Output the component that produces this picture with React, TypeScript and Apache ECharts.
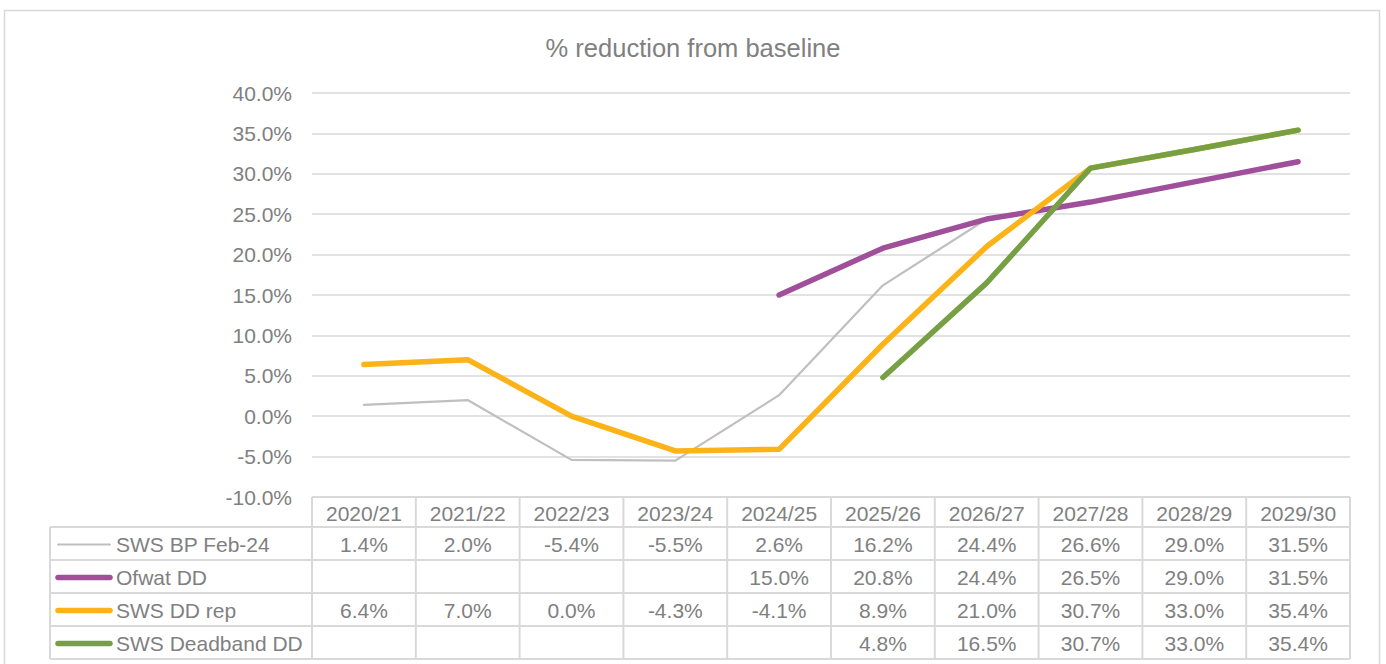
import React, { useEffect, useRef } from "react";
import * as echarts from "echarts";

const categories = ["2020/21", "2021/22", "2022/23", "2023/24", "2024/25", "2025/26", "2026/27", "2027/28", "2028/29", "2029/30"];
const swsBpFeb24 = [1.4, 2.0, -5.4, -5.5, 2.6, 16.2, 24.4, 26.6, 29.0, 31.5];
const ofwatDd = [null, null, null, null, 15.0, 20.8, 24.4, 26.5, 29.0, 31.5];
const swsDdRep = [6.4, 7.0, 0.0, -4.3, -4.1, 8.9, 21.0, 30.7, 33.0, 35.4];
const swsDeadbandDd = [null, null, null, null, null, 4.8, 16.5, 30.7, 33.0, 35.4];
const seriesNames = ["SWS BP Feb-24", "Ofwat DD", "SWS DD rep", "SWS Deadband DD"];
const seriesValues = [swsBpFeb24, ofwatDd, swsDdRep, swsDeadbandDd];
const seriesColors = ["#bfbfbf", "#a0509a", "#fbb317", "#76a043"];
const seriesWidths = [2.2, 5.5, 5.5, 5.5];
const yMin = -10;
const yMax = 40;
const yStep = 5;
const chartTitle = "% reduction from baseline";

const FONT = '"Liberation Sans", Arial, sans-serif';
const TEXT = "#808080";
const LINE = "#d9d9d9";

export default function App() {
  const ref = useRef<HTMLDivElement>(null);
  useEffect(() => {
    if (!ref.current) return;
    const chart = echarts.init(ref.current, null, { renderer: "svg" });
    chart.setOption({
      animation: false,
      backgroundColor: "#ffffff",
      title: {
        text: chartTitle,
        left: "center",
        top: 30,
        textStyle: { color: TEXT, fontSize: 25.5, fontWeight: "normal", fontFamily: FONT },
      },
      grid: { left: 312, right: 36, top: 93, bottom: 167 },
      xAxis: {
        type: "category",
        data: categories,
        boundaryGap: true,
        axisLine: { show: false },
        axisTick: { show: false },
        axisLabel: { show: false },
      },
      yAxis: {
        type: "value",
        min: yMin,
        max: yMax,
        interval: yStep,
        axisLine: { show: false },
        axisTick: { show: false },
        axisLabel: {
          margin: 20,
          color: TEXT,
          fontSize: 21,
          fontFamily: FONT,
          formatter: (v: number) => v.toFixed(1) + "%",
        },
        splitLine: { lineStyle: { color: LINE, width: 1.5 } },
      },
      series: seriesNames.map((name, i) => ({
        name,
        type: "line",
        data: seriesValues[i],
        symbol: "none",
        connectNulls: false,
        lineStyle: { color: seriesColors[i], width: seriesWidths[i], cap: "round", join: "round" },
        itemStyle: { color: seriesColors[i] },
        z: 2 + i,
      })),
    });

    const xs = categories.map((_, i) => chart.convertToPixel({ xAxisIndex: 0 }, i) as number);
    const colW = xs[1] - xs[0];
    const tLeft = xs[0] - colW / 2;
    const tRight = xs[xs.length - 1] + colW / 2;
    const headTop = chart.convertToPixel({ yAxisIndex: 0 }, yMin) as number;
    const headBottom = headTop + 30;
    const rowH = 33;
    const labelLeft = 50;
    const tableBottom = headBottom + rowH * seriesNames.length;

    const g: any[] = [];
    g.push({
      type: "rect",
      shape: { x: 4.5, y: 10.5, width: 1375, height: 700 },
      style: { fill: "none", stroke: "#d9d9d9", lineWidth: 1.5 },
      z: 0,
    });
    g.push({ type: "line", shape: { x1: tLeft, y1: headTop, x2: tRight, y2: headTop }, style: { stroke: LINE, lineWidth: 2 } });
    for (let k = 0; k <= categories.length; k++) {
      const x = tLeft + k * colW;
      g.push({ type: "line", shape: { x1: x, y1: headTop, x2: x, y2: tableBottom }, style: { stroke: LINE, lineWidth: 2 } });
    }
    g.push({ type: "line", shape: { x1: labelLeft, y1: headBottom, x2: labelLeft, y2: tableBottom }, style: { stroke: LINE, lineWidth: 2 } });
    for (let r = 0; r <= seriesNames.length; r++) {
      const y = headBottom + r * rowH;
      g.push({ type: "line", shape: { x1: labelLeft, y1: y, x2: tRight, y2: y }, style: { stroke: LINE, lineWidth: 2 } });
    }
    categories.forEach((c, i) => {
      g.push({
        type: "text",
        x: xs[i],
        y: (headTop + headBottom) / 2 + 1,
        style: { text: c, fill: TEXT, font: `21px ${FONT}`, textAlign: "center", textVerticalAlign: "middle", align: "center", verticalAlign: "middle" },
      });
    });
    seriesNames.forEach((name, r) => {
      const cy = headBottom + r * rowH + rowH / 2 + 1;
      g.push({
        type: "line",
        shape: { x1: 58, y1: cy, x2: 110, y2: cy },
        style: { stroke: seriesColors[r], lineWidth: r === 0 ? 2 : 5.5, lineCap: "round" },
      });
      g.push({
        type: "text",
        x: 116,
        y: cy,
        style: { text: name, fill: TEXT, font: `21px ${FONT}`, textAlign: "left", textVerticalAlign: "middle", align: "left", verticalAlign: "middle" },
      });
      seriesValues[r].forEach((v, i) => {
        if (v === null || v === undefined) return;
        g.push({
          type: "text",
          x: xs[i],
          y: cy,
          style: { text: (v as number).toFixed(1) + "%", fill: TEXT, font: `21px ${FONT}`, textAlign: "center", textVerticalAlign: "middle", align: "center", verticalAlign: "middle" },
        });
      });
    });
    chart.setOption({ graphic: g });
    return () => chart.dispose();
  }, []);

  return (
    <div style={{ position: "absolute", left: 0, top: 0, width: 1386, height: 664, overflow: "hidden", background: "#fff" }}>
      <div ref={ref} style={{ position: "absolute", left: 0, top: 0, width: 1386, height: 664 }} />
      <div style={{ position: "absolute", left: 0, top: 0, width: 1386, height: 5, overflow: "hidden" }}>
        <div style={{ position: "absolute", left: 8, top: -20, whiteSpace: "nowrap", color: "#2a4ea0", fontWeight: "bold", fontSize: 18, lineHeight: "20px", fontFamily: FONT }}>
          Figure 7: Leakage targets against company performance
        </div>
      </div>
    </div>
  );
}
